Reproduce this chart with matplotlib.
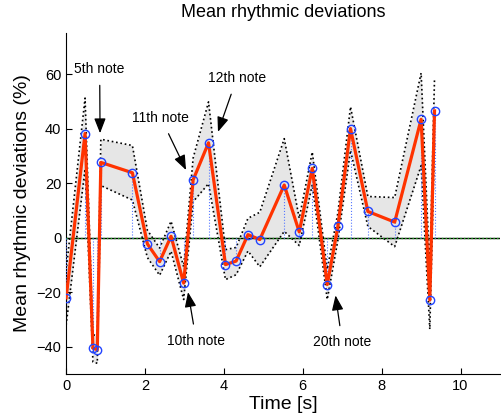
import matplotlib
matplotlib.use("Agg")
import matplotlib.pyplot as plt
import numpy as np

plt.rcParams['font.family'] = ['Liberation Sans', 'DejaVu Sans']

# onset times of the notes (s)
waktu = [0.0, 0.48, 0.68, 0.79, 0.88, 1.68, 2.06, 2.37, 2.66, 2.98,
         3.22, 3.61, 4.04, 4.31, 4.61, 4.91, 5.53, 5.91, 6.24, 6.62,
         6.89, 7.21, 7.65, 8.33, 9.00, 9.22, 9.34]
# mean deviation (%)
deviasi = [-22.1, 38.2, -40.6, -41.1, 27.6, 23.8, -2.3, -8.8, 0.5, -16.7,
           21.2, 34.8, -9.9, -8.6, 1.1, -0.7, 19.3, 2.1, 25.4, -17.2,
           4.1, 40.0, 9.6, 5.7, 43.4, -22.9, 46.5]
# spread of the deviations (%)
sebaran = [10, 13, 5, 5, 8.5, 10, 5, 5, 5.5, 6,
           8, 15, 5.5, 5, 6, 10, 17, 5, 6, 5.5,
           5, 8, 5.5, 9, 17, 10.7, 12]

catatan = ["5th note", "10th note", "11th note", "12th note", "20th note"]
posisi_teks = [(0.85, 62), (3.30, -37.8), (2.40, 44), (4.33, 58.6), (7.0, -38.4)]
ujung_panah = [(0.86, 38.3), (3.09, -20), (3.04, 24.8), (3.85, 38.8), (6.83, -21.2)]

t = np.array(waktu)
y = np.array(deviasi)
s = np.array(sebaran)

fig = plt.figure(figsize=(5.01, 4.15), dpi=100)
ax = fig.add_axes([0.132, 0.099, 0.866, 0.821])

# band of spread
ax.fill_between(t, y - s, y + s, color='#e6e6e6', lw=0, zorder=1)
ax.plot(t, y + s, color='k', ls=':', lw=1.2, zorder=2)
ax.plot(t, y - s, color='k', ls=':', lw=1.2, zorder=2)

# zero line
ax.axhline(0, color='k', lw=1.0, zorder=3)
ax.axhline(0, color='#22aa22', lw=1.0, ls=':', zorder=3)

# stems to zero
ax.vlines(t, 0, y, colors='#5577ff', linestyles=':', lw=0.8, zorder=3)

# mean line with markers
ax.plot(t, y, color='#ff3300', lw=2.3, zorder=4)
ax.plot(t, y, ls='none', marker='o', ms=6, mfc='none', mec='#2244ff', mew=1.0, zorder=5)

for teks, pos, ujung in zip(catatan, posisi_teks, ujung_panah):
    ax.annotate(teks, xy=ujung, xytext=pos, ha='center', va='center', fontsize=10,
                arrowprops=dict(arrowstyle='-|>,head_length=0.9,head_width=0.35',
                                color='k', lw=0.9, shrinkA=5, shrinkB=0),
                zorder=6)

ax.set_xlim(0, 11)
ax.set_ylim(-50, 75)
ax.set_xticks([0, 2, 4, 6, 8, 10])
ax.set_yticks([-40, -20, 0, 20, 40, 60])
ax.tick_params(direction='in', length=4, labelsize=10.5)
ax.spines['top'].set_visible(False)
ax.spines['right'].set_visible(False)

ax.set_title("Mean rhythmic deviations", fontsize=13, pad=12)
ax.set_xlabel("Time [s]", fontsize=14, labelpad=2)
ax.set_ylabel("Mean rhythmic deviations (%)", fontsize=14, labelpad=4)

fig.savefig("out.png", dpi=100)
